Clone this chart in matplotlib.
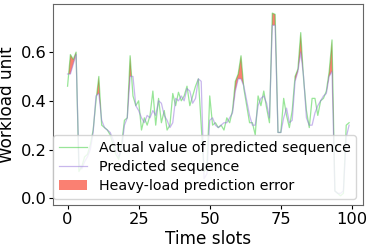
import numpy as np
from matplotlib import pyplot as plt

# workload readings, one per time slot
actual = [0.46, 0.59, 0.57, 0.60, 0.11, 0.13, 0.17, 0.18, 0.22, 0.28,
          0.40, 0.50, 0.30, 0.29, 0.28, 0.26, 0.22, 0.18, 0.16, 0.22,
          0.32, 0.33, 0.585, 0.42, 0.38, 0.40, 0.28, 0.33, 0.30, 0.34,
          0.44, 0.30, 0.41, 0.31, 0.36, 0.28, 0.30, 0.43, 0.38, 0.435,
          0.40, 0.42, 0.46, 0.38, 0.42, 0.46, 0.49, 0.30, 0.11, 0.12,
          0.42, 0.30, 0.31, 0.29, 0.30, 0.28, 0.33, 0.31, 0.36, 0.48,
          0.51, 0.585, 0.45, 0.38, 0.31, 0.31, 0.26, 0.42, 0.38, 0.44,
          0.37, 0.31, 0.76, 0.755, 0.27, 0.27, 0.41, 0.34, 0.29, 0.36,
          0.50, 0.53, 0.68, 0.49, 0.36, 0.29, 0.41, 0.41, 0.34, 0.40,
          0.41, 0.44, 0.52, 0.65, 0.03, 0.02, 0.01, 0.02, 0.30, 0.31]

predicted = [0.51, 0.51, 0.55, 0.59, 0.14, 0.12, 0.15, 0.17, 0.20, 0.27,
             0.42, 0.43, 0.32, 0.29, 0.28, 0.27, 0.24, 0.20, 0.17, 0.20,
             0.30, 0.33, 0.50, 0.50, 0.38, 0.36, 0.33, 0.31, 0.34, 0.33,
             0.36, 0.34, 0.40, 0.39, 0.34, 0.32, 0.29, 0.31, 0.41, 0.40,
             0.42, 0.40, 0.45, 0.44, 0.39, 0.41, 0.49, 0.48, 0.08, 0.10,
             0.32, 0.33, 0.30, 0.29, 0.30, 0.31, 0.31, 0.33, 0.35, 0.44,
             0.49, 0.49, 0.46, 0.40, 0.34, 0.30, 0.30, 0.38, 0.41, 0.42,
             0.39, 0.33, 0.71, 0.71, 0.27, 0.27, 0.33, 0.37, 0.31, 0.32,
             0.48, 0.52, 0.60, 0.50, 0.33, 0.30, 0.30, 0.35, 0.38, 0.40,
             0.42, 0.43, 0.50, 0.52, 0.03, 0.02, 0.02, 0.03, 0.25, 0.30]


def main():
    x = np.arange(len(actual))
    a = np.array(actual)
    p = np.array(predicted)

    fig = plt.figure(figsize=(3.74, 2.49), dpi=100)
    ax = fig.add_axes([0.143, 0.177, 0.828, 0.807])

    heavy = (a > p) & (a > 0.47)
    ax.fill_between(x, p, a, where=heavy, interpolate=True,
                    color="salmon", linewidth=0,
                    label="Heavy-load prediction error")
    ax.plot(x, a, color="limegreen", alpha=0.5, linewidth=0.9,
            label="Actual value of predicted sequence")
    ax.plot(x, p, color="mediumpurple", alpha=0.5, linewidth=0.9,
            label="Predicted sequence")

    handles, labels = ax.get_legend_handles_labels()
    order = [1, 2, 0]
    ax.legend([handles[i] for i in order], [labels[i] for i in order],
              loc="lower left", bbox_to_anchor=(-0.002, 0.03),
              borderaxespad=0, fontsize=10.3, labelspacing=0.35)

    ax.set_xticks([0, 25, 50, 75, 100])
    ax.set_yticks([0.0, 0.2, 0.4, 0.6])
    ax.tick_params(labelsize=11.7, length=3, pad=2)
    ax.set_xlabel("Time slots", fontsize=12.2, labelpad=2)
    ax.set_ylabel("Workload unit", fontsize=12.2, labelpad=3)
    for s in ax.spines.values():
        s.set_color("0.4")

    fig.savefig("out.png", dpi=100)


if __name__ == "__main__":
    main()
